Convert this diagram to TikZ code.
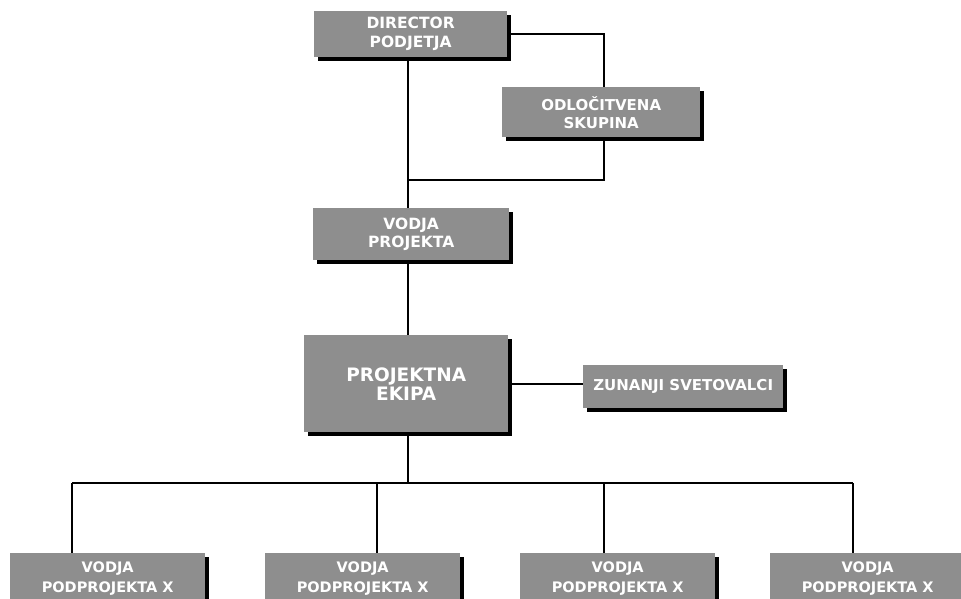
\documentclass[tikz,border=0pt]{standalone}
\usepackage{fontspec}
\setmainfont{DejaVu Sans}
\usetikzlibrary{shadows}
\definecolor{boxgray}{HTML}{8E8E8E}
\begin{document}
\begin{tikzpicture}[x=1pt,y=-1pt,
  orgbox/.style={anchor=north west, fill=boxgray, text=white, font=\bfseries,
    align=center, inner sep=0pt,
    drop shadow={shadow xshift=4pt, shadow yshift=-4pt, fill=black, opacity=1}},
  link/.style={draw=black, line width=1.6pt}]
\useasboundingbox (0,0) rectangle (961,599);
\clip (0,0) rectangle (961,599);

% upper chain
\node[orgbox, minimum width=193pt, minimum height=46pt, font=\bfseries\fontsize{15.5}{19}\selectfont]
  (dir) at (314,11) {DIRECTOR\\PODJETJA};
\node[orgbox, minimum width=198pt, minimum height=50pt, font=\bfseries\fontsize{15}{18}\selectfont]
  (odl) at (502,87) {ODLOČITVENA\\SKUPINA};
\node[orgbox, minimum width=196pt, minimum height=52pt, font=\bfseries\fontsize{15.5}{18}\selectfont]
  (vp) at (313,208) {VODJA\\PROJEKTA};
\node[orgbox, minimum width=204pt, minimum height=97pt, font=\bfseries\fontsize{18.5}{19}\selectfont]
  (ek) at (304,335) {PROJEKTNA\\EKIPA};
\node[orgbox, minimum width=200pt, minimum height=43pt, font=\bfseries\fontsize{15}{17}\selectfont]
  (zs) at (583,365) {ZUNANJI SVETOVALCI};

% sub-project leaders
\foreach \i/\x in {1/10, 2/265, 3/520, 4/770}{
  \node[orgbox, minimum width=195pt, minimum height=50pt, font=\bfseries\fontsize{14.5}{20}\selectfont]
    (p\i) at (\x,553) {VODJA\\PODPROJEKTA X};
}

% trunk and junction points
\coordinate (t0) at (408,57);
\coordinate (j1) at (408,180);
\coordinate (j2) at (408,483);
\coordinate (d1) at (72,483);
\coordinate (d2) at (377,483);
\coordinate (d3) at (604,483);
\coordinate (d4) at (853,483);

% connectors
\draw[link] (dir.east) -| (odl.north -| d3);
\draw[link] (odl.south -| d3) |- (j1);
\draw[link] (dir.south -| t0) -- (vp.north -| t0);
\draw[link] (vp.south -| t0) -- (ek.north -| t0);
\draw[link] (ek.east) -- (zs.west |- ek.east);
\draw[link] (ek.south -| t0) -- (j2);
\draw[link] (d1) -- (d4);
\foreach \i in {1,2,3,4}
  \draw[link] (d\i) -- (p\i.north -| d\i);
\end{tikzpicture}
\end{document}
